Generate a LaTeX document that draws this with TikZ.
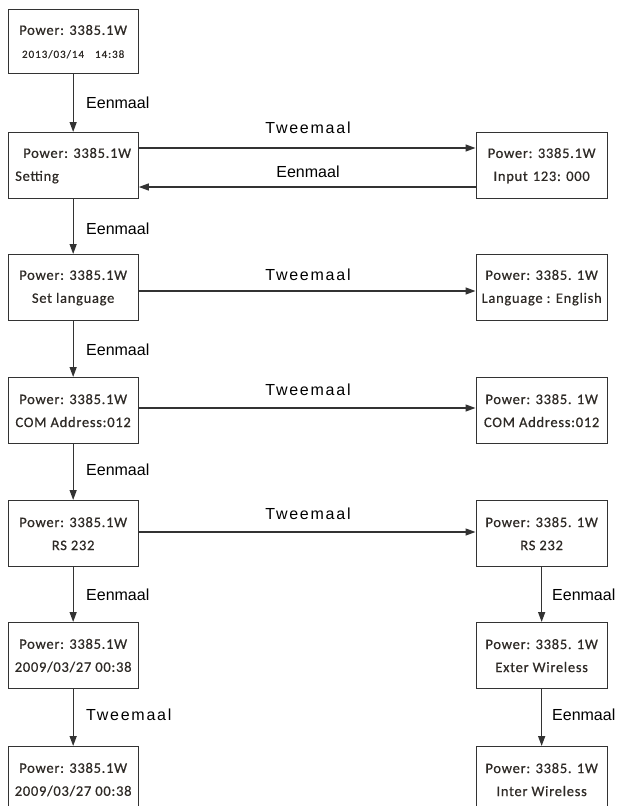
\documentclass[tikz,border=0pt]{standalone}
\usepackage{fontspec}
\usetikzlibrary{arrows.meta}
\newfontfamily\boxfont[LetterSpace=5,FakeBold=0.6]{Carlito}
\newfontfamily\smallboxfont[LetterSpace=9,FakeBold=0.6]{Carlito}
\newfontfamily\lblfont{Liberation Sans}
\newfontfamily\lblwide[LetterSpace=11]{Liberation Sans}
\definecolor{ln}{HTML}{333333}
\definecolor{tx}{HTML}{2E2A26}
\begin{document}
\begin{tikzpicture}[x=1pt,y=-1pt,
  pbox/.style={draw=ln, line width=1.3pt, minimum width=130pt, minimum height=66pt,
    anchor=north west, inner sep=0pt, align=center, text=tx,
    font=\boxfont\fontsize{14.5}{23}\selectfont},
  rbox/.style={pbox, minimum width=131pt},
  arr/.style={draw=ln, line width=1.3pt, -{Triangle[length=10pt,width=7pt]}},
  lbl/.style={font=\lblfont\fontsize{16}{18}\selectfont, text=black, inner sep=0pt},
  lblw/.style={font=\lblwide\fontsize{16}{18}\selectfont, text=black, inner sep=0pt}]
\path[use as bounding box] (0,0) rectangle (624,806);
\clip (0,0) rectangle (624,806);

% left column
\node[pbox, minimum height=64pt] (b1) at (7.5,9)
  {Power: 3385.1W\\{\smallboxfont\fontsize{11}{23}\selectfont 2013/03/14\hspace{11pt}14:38}};
\node[pbox, align=left] (b2) at (7.5,132) {\hspace*{8pt}Power: 3385.1W\\Setting};
\node[pbox] (b3) at (7.5,254) {Power: 3385.1W\\Set language};
\node[pbox] (b4) at (7.5,377) {Power: 3385.1W\\COM Address:012};
\node[pbox] (b5) at (7.5,500) {Power: 3385.1W\\RS 232};
\node[pbox] (b6) at (7.5,622) {Power: 3385.1W\\2009/03/27 00:38};
\node[pbox] (b7) at (7.5,746) {Power: 3385.1W\\2009/03/27 00:38};

% right column
\node[rbox] (r1) at (475.5,132) {Power: 3385.1W\\Input\hspace{5pt}123: 000};
\node[rbox] (r2) at (475.5,254) {Power: 3385. 1W\\Language : English};
\node[rbox] (r3) at (475.5,377) {Power: 3385. 1W\\COM Address:012};
\node[rbox] (r4) at (475.5,500) {Power: 3385. 1W\\RS 232};
\node[rbox] (r5) at (475.5,622) {Power: 3385. 1W\\Exter Wireless};
\node[rbox] (r6) at (475.5,746) {Power: 3385. 1W\\Inter Wireless};

% vertical connectors
\draw[arr] (b1.south) -- (b2.north);
\draw[arr] (b2.south) -- (b3.north);
\draw[arr] (b3.south) -- (b4.north);
\draw[arr] (b4.south) -- (b5.north);
\draw[arr] (b5.south) -- (b6.north);
\draw[arr] (b6.south) -- (b7.north);
\draw[arr] (r4.south) -- (r5.north);
\draw[arr] (r5.south) -- (r6.north);

% horizontal connectors
\draw[arr] ([yshift=-16pt]b2.north east) -- ([yshift=-16pt]r1.north west);
\draw[arr] ([yshift=-55pt]r1.north west) -- ([yshift=-55pt]b2.north east);
\draw[arr] ([yshift=-37pt]b3.north east) -- ([yshift=-37pt]r2.north west);
\draw[arr] ([yshift=-31pt]b4.north east) -- ([yshift=-31pt]r3.north west);
\draw[arr] ([yshift=-32pt]b5.north east) -- ([yshift=-32pt]r4.north west);

% labels
\node[lbl, anchor=west] (l1) at (86,103) {Eenmaal};
\node[lbl, anchor=west] (l2) at (86,229) {Eenmaal};
\node[lbl, anchor=west] (l3) at (86,350) {Eenmaal};
\node[lbl, anchor=west] (l4) at (86,470) {Eenmaal};
\node[lbl, anchor=west] (l5) at (86,595) {Eenmaal};
\node[lblw, anchor=west] (l6) at (86,715) {Tweemaal};
\node[lbl, anchor=west] (l7) at (552,595) {Eenmaal};
\node[lbl, anchor=west] (l8) at (552,715) {Eenmaal};
\node[lblw] (t1) at (308,128) {Tweemaal};
\node[lbl] (t2) at (308,172) {Eenmaal};
\node[lblw] (t3) at (308,275) {Tweemaal};
\node[lblw] (t4) at (308,390) {Tweemaal};
\node[lblw] (t5) at (308,514) {Tweemaal};
\end{tikzpicture}
\end{document}
